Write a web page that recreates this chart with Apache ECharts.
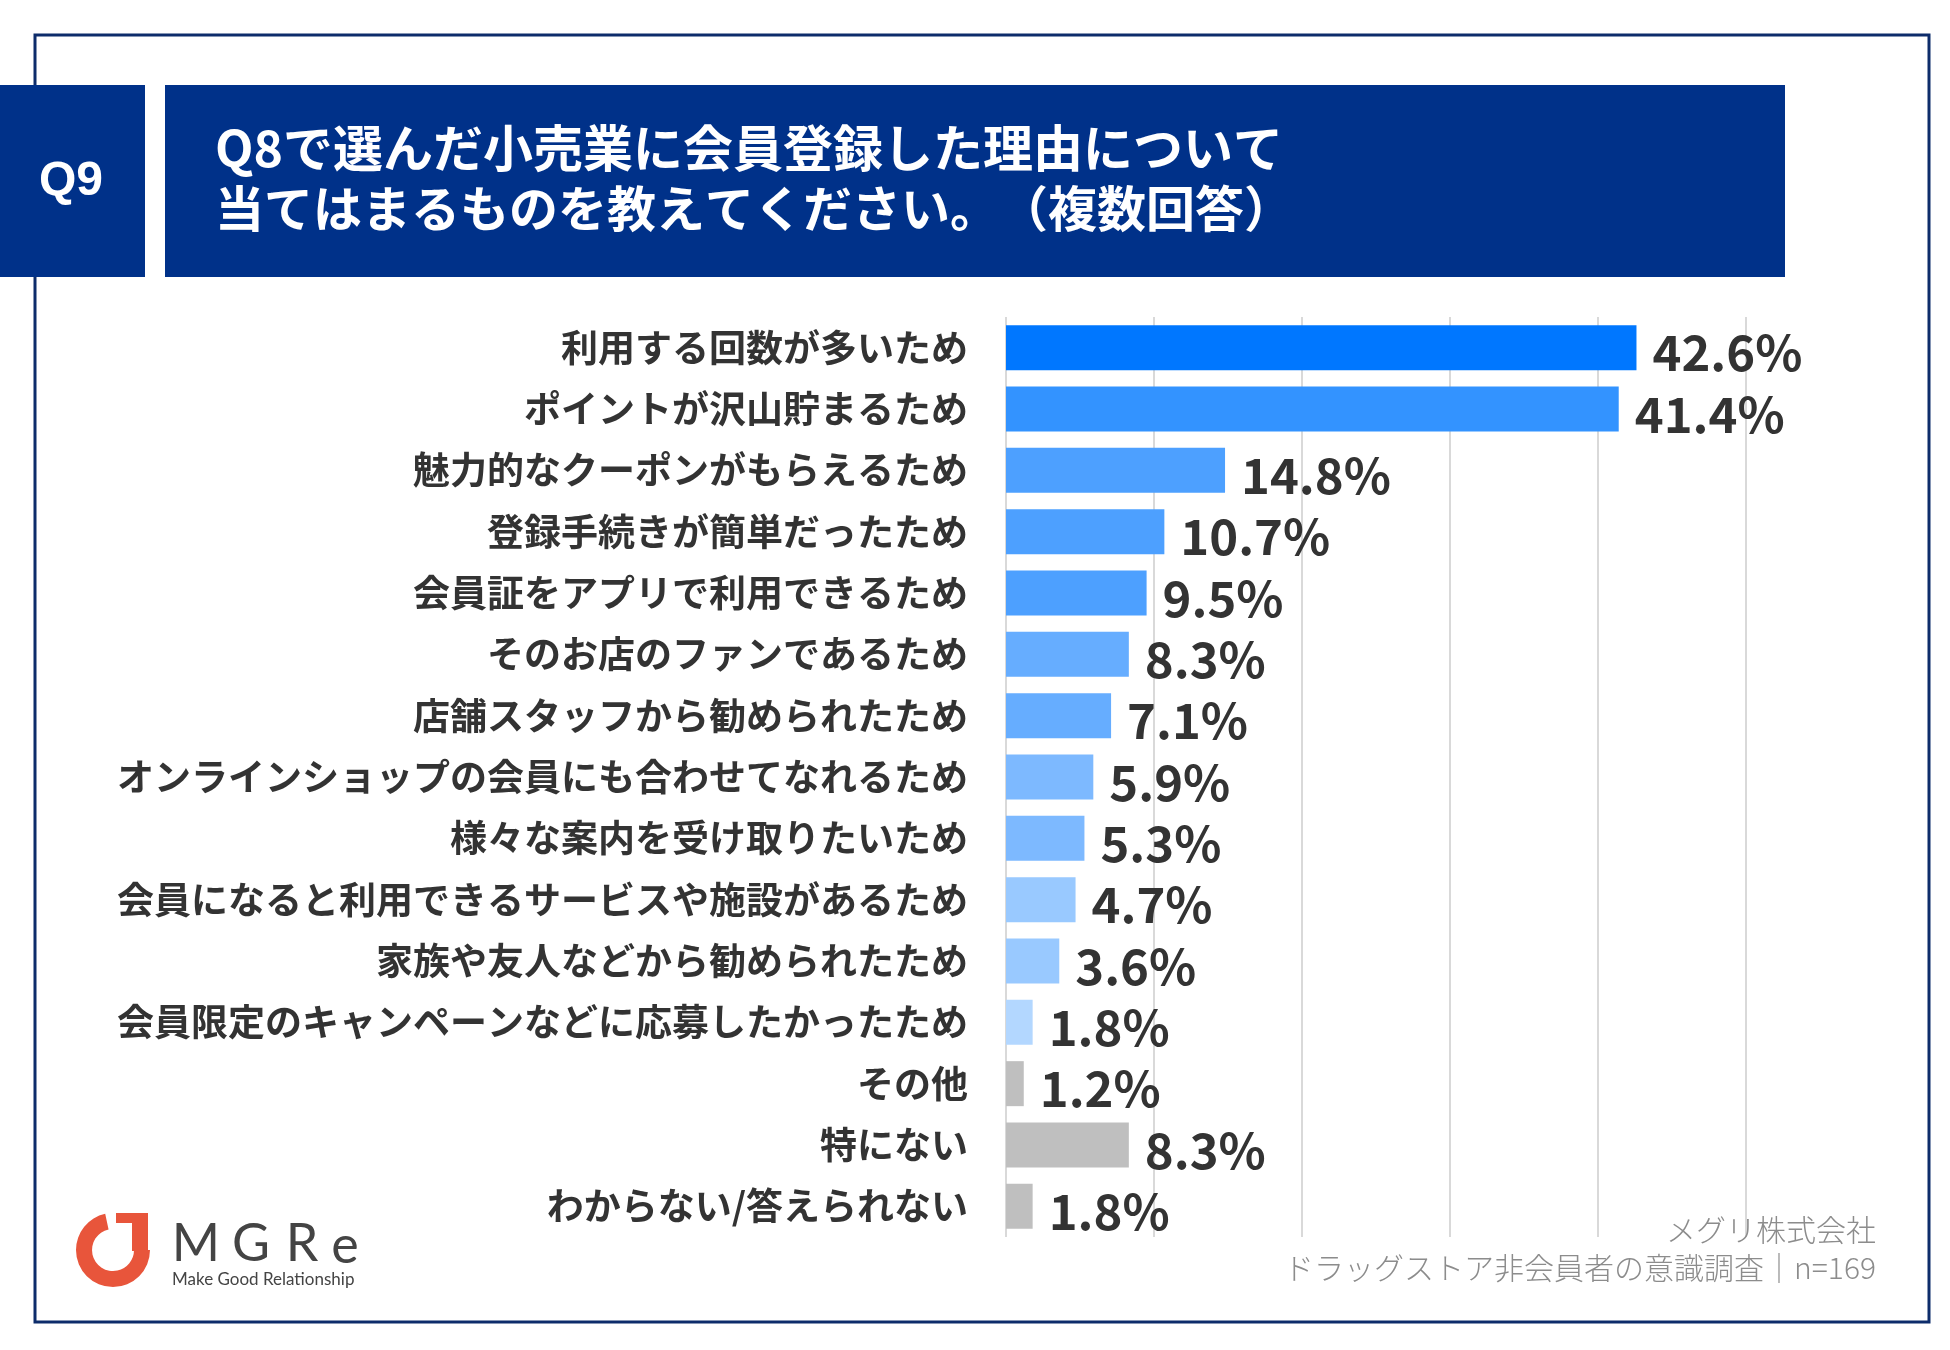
<!DOCTYPE html>
<html>
<head>
<meta charset="utf-8">
<script src="https://cdn.jsdelivr.net/npm/echarts@6/dist/echarts.min.js"></script>
<style>
html,body{margin:0;padding:0;background:#fff;}
#chart{width:1950px;height:1350px;}
</style>
</head>
<body>
<div id="chart"></div>
<script>
const categories = [
  '利用する回数が多いため',
  'ポイントが沢山貯まるため',
  '魅力的なクーポンがもらえるため',
  '登録手続きが簡単だったため',
  '会員証をアプリで利用できるため',
  'そのお店のファンであるため',
  '店舗スタッフから勧められたため',
  'オンラインショップの会員にも合わせてなれるため',
  '様々な案内を受け取りたいため',
  '会員になると利用できるサービスや施設があるため',
  '家族や友人などから勧められたため',
  '会員限定のキャンペーンなどに応募したかったため',
  'その他',
  '特にない',
  'わからない/答えられない'
];
const values = [42.6, 41.4, 14.8, 10.7, 9.5, 8.3, 7.1, 5.9, 5.3, 4.7, 3.6, 1.8, 1.2, 8.3, 1.8];
const barColors = [
  '#0077FF', '#3393FF', '#4DA0FF', '#4DA0FF', '#4DA0FF', '#66ADFF', '#66ADFF',
  '#7DB9FF', '#7DB9FF', '#99C9FF', '#99C9FF', '#B3D7FF', '#BFBFBF', '#BFBFBF', '#BFBFBF'
];
const xTicks = [0, 10, 20, 30, 40, 50];
const titleLines = ['Q8で選んだ小売業に会員登録した理由について', '当てはまるものを教えてください。　（複数回答）'];
const questionNo = 'Q9';
const sourceLines = ['メグリ株式会社', 'ドラッグストア非会員者の意識調査｜n=169'];

const JP = '"Noto Sans CJK JP", "Noto Sans", sans-serif';
const LOGO = 'Lato, "Open Sans", sans-serif';
const chart = echarts.init(document.getElementById('chart'), null, {renderer: 'canvas'});

const option = {
  backgroundColor: '#ffffff',
  animation: false,
  grid: {left: 1006, right: 204, top: 317, height: 920, containLabel: false},
  xAxis: {
    type: 'value',
    min: xTicks[0],
    max: xTicks[xTicks.length - 1],
    interval: xTicks[1] - xTicks[0],
    axisLabel: {show: false},
    axisTick: {show: false},
    axisLine: {show: false},
    splitLine: {show: true, lineStyle: {color: '#d9d9d9', width: 2}}
  },
  yAxis: {
    type: 'category',
    inverse: true,
    data: categories,
    axisTick: {show: false},
    axisLine: {show: false},
    axisLabel: {
      margin: 38,
      fontSize: 37,
      fontWeight: 'bold',
      color: '#333333',
      fontFamily: JP
    }
  },
  series: [{
    type: 'bar',
    barWidth: 45,
    data: values.map((v, i) => ({value: v, itemStyle: {color: barColors[i]}})),
    label: {
      show: true,
      position: 'right',
      distance: 16,
      offset: [0, 5],
      fontSize: 49,
      fontWeight: 'bold',
      color: '#333333',
      fontFamily: JP,
      formatter: p => p.value.toFixed(1) + '%'
    }
  }],
  graphic: [
    {type: 'rect', z: 0, shape: {x: 35, y: 35, width: 1894, height: 1287},
     style: {fill: 'none', stroke: '#0d2c6b', lineWidth: 3}},
    {type: 'rect', z: 1, shape: {x: 0, y: 85, width: 145, height: 192}, style: {fill: '#003189'}},
    {type: 'text', z: 2, x: 71, y: 182,
     style: {text: questionNo, fill: '#ffffff', fontSize: 48, fontWeight: 'bold',
             fontFamily: '"Liberation Sans", Arial, sans-serif', textAlign: 'center', textVerticalAlign: 'middle'}},
    {type: 'rect', z: 1, shape: {x: 165, y: 85, width: 1620, height: 192}, style: {fill: '#003189'}},
    {type: 'text', z: 2, x: 215, y: 148,
     style: {text: titleLines[0], fill: '#ffffff', fontSize: 50, fontWeight: 'bold',
             fontFamily: JP, textAlign: 'left', textVerticalAlign: 'middle'}},
    {type: 'text', z: 2, x: 215, y: 208,
     style: {text: titleLines[1], fill: '#ffffff', fontSize: 49, fontWeight: 'bold',
             fontFamily: JP, textAlign: 'left', textVerticalAlign: 'middle'}},
    {type: 'text', z: 2, x: 1876, y: 1230,
     style: {text: sourceLines[0], fill: '#8c8c8c', fontSize: 30, fontWeight: 300,
             fontFamily: JP, textAlign: 'right', textVerticalAlign: 'middle'}},
    {type: 'text', z: 2, x: 1876, y: 1268,
     style: {text: sourceLines[1], fill: '#8c8c8c', fontSize: 30, fontWeight: 300,
             fontFamily: JP, textAlign: 'right', textVerticalAlign: 'middle'}},
    {type: 'sector', z: 2, shape: {cx: 113, cy: 1250, r: 37, r0: 21, startAngle: 0, endAngle: 4.5, clockwise: true},
     style: {fill: '#E8553B'}},
    {type: 'rect', z: 2, shape: {x: 132, y: 1213, width: 16, height: 38}, style: {fill: '#E8553B'}},
    {type: 'rect', z: 2, shape: {x: 116, y: 1213, width: 20, height: 10}, style: {fill: '#E8553B'}},
    {type: 'text', z: 2, x: 196, y: 1244, style: {text: 'M', fill: '#444444', fontSize: 52, fontFamily: LOGO, textAlign: 'center', textVerticalAlign: 'middle'}},
    {type: 'text', z: 2, x: 251, y: 1244, style: {text: 'G', fill: '#444444', fontSize: 52, fontFamily: LOGO, textAlign: 'center', textVerticalAlign: 'middle'}},
    {type: 'text', z: 2, x: 302, y: 1244, style: {text: 'R', fill: '#444444', fontSize: 52, fontFamily: LOGO, textAlign: 'center', textVerticalAlign: 'middle'}},
    {type: 'text', z: 2, x: 345, y: 1246, style: {text: 'e', fill: '#444444', fontSize: 52, fontFamily: LOGO, textAlign: 'center', textVerticalAlign: 'middle'}},
    {type: 'text', z: 2, x: 172, y: 1280, style: {text: 'Make Good Relationship', fill: '#444444', fontSize: 17, fontFamily: LOGO, textAlign: 'left', textVerticalAlign: 'middle'}}
  ]
};
chart.setOption(option);
</script>
</body>
</html>
